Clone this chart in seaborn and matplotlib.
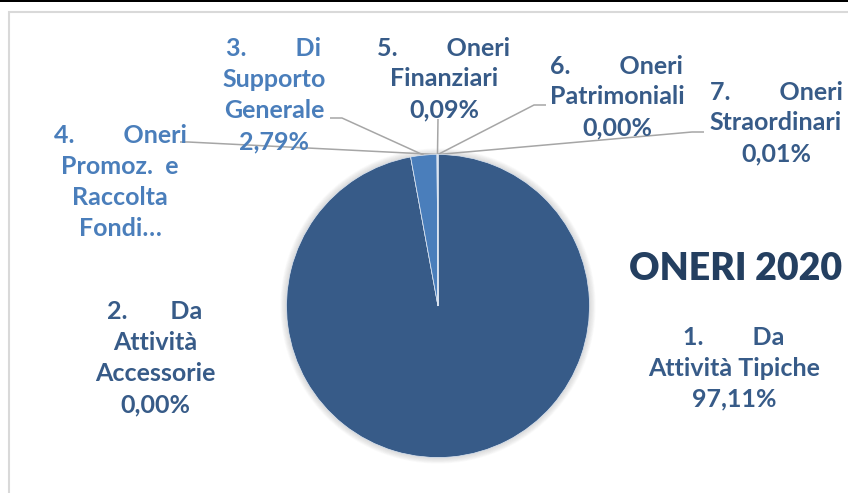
import numpy as np
import matplotlib
matplotlib.use("Agg")
import matplotlib.pyplot as plt
import seaborn as sns
from matplotlib.patches import Rectangle, Circle

# data
labels = [
    "1.        Da\nAttività Tipiche",
    "2.       Da\nAttività\nAccessorie",
    "3.        Di\nSupporto\nGenerale",
    "4.        Oneri\nPromoz.  e\nRaccolta\nFondi…",
    "5.        Oneri\nFinanziari",
    "6.        Oneri\nPatrimoniali",
    "7.        Oneri\nStraordinari",
]
values = [97.11, 0.00, 2.79, 0.00, 0.09, 0.00, 0.01]
show_pct = [True, True, True, False, True, True, True]
title = "ONERI 2020"

dark = "#375B88"
light = "#4A7EBB"
slice_colors = [dark, "#2F5280", light, "#5B8CC8", "#6E9BD0", "#3E6698", "#4D77A8"]
label_colors = [dark, dark, light, light, dark, dark, dark]

# layout (pixels in the 848x493 image)
W, H = 848, 493
cx, cy, R = 438, 306, 151.5
label_pos = [(734, 368), (155, 358), (274, 95), (120, 182), (444, 79), (617, 97), (776, 123)]
# leader elbows: (elbow, end) or None
leaders = [None, None,
           ((342, 118), (330, 118)),
           ((188, 142), (180, 142)),
           ((438, 119), (438, 119)),
           ((534, 105), (546, 105)),
           ((692, 132), (704, 132))]


def px(x, y):
    return (x - cx) / R, (cy - y) / R


sns.set_theme(style="white")
plt.rcParams["font.family"] = ["Lato", "DejaVu Sans"]

fig = plt.figure(figsize=(W / 100, H / 100), dpi=100)
ax = fig.add_axes([0, 0, 1, 1])

# soft shadow behind the pie
for k in range(8):
    ax.add_patch(Circle((0, 0), 1.0 + 0.005 * (k + 1), facecolor="#7F7F7F", edgecolor="none",
                        alpha=0.035, zorder=0.2))

wedges, _ = ax.pie(values, colors=slice_colors, startangle=90, counterclock=False,
                   radius=1.0, center=(0, 0),
                   wedgeprops=dict(edgecolor="#DDE6F2", linewidth=0.5))

for i, (lab, v) in enumerate(zip(labels, values)):
    txt = lab + ("\n" + f"{v:.2f}".replace(".", ",") + "%" if show_pct[i] else "")
    x, y = px(*label_pos[i])
    ax.text(x, y, txt, ha="center", va="center", fontsize=18, fontweight="bold",
            color=label_colors[i], linespacing=1.42)
    if leaders[i] is not None:
        w = wedges[i]
        ang = np.deg2rad((w.theta1 + w.theta2) / 2)
        ax_x, ax_y = np.cos(ang), np.sin(ang)
        (ex, ey), (fx, fy) = leaders[i]
        p1 = px(ex, ey)
        p2 = px(fx, fy)
        ax.plot([ax_x, p1[0], p2[0]], [ax_y, p1[1], p2[1]], color="#A6A6A6", lw=1.1,
                solid_capstyle="butt", zorder=0.5)

tx, ty = px(736, 269)
ax.text(tx, ty, title, ha="center", va="center", fontsize=27, fontweight="heavy",
        color="#243F60")

ax.set_xlim(px(0, 0)[0], px(W, 0)[0])
ax.set_ylim(px(0, H)[1], px(0, 0)[1])
ax.set_aspect("auto")
ax.axis("off")

# chart border and page rule
fig.patches.append(Rectangle((9 / W, -0.1), 1.2, (H - 12) / H + 0.1, transform=fig.transFigure,
                             fill=False, edgecolor="#D9D9D9", lw=1.5))
fig.patches.append(Rectangle((0, (H - 2) / H), 1, 2 / H, transform=fig.transFigure,
                             facecolor="black", edgecolor="none"))

fig.savefig("out.png", dpi=100)
